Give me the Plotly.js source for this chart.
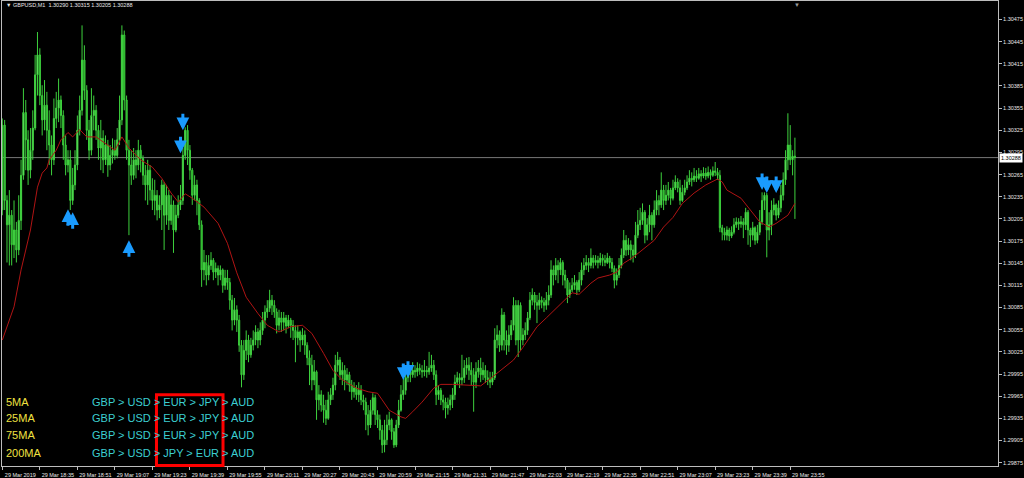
<!DOCTYPE html>
<html>
<head>
<meta charset="utf-8">
<script src="https://cdn.plot.ly/plotly-3.0.1.min.js"></script>
<style>html,body{margin:0;padding:0;background:#000;}#chart{width:1024px;height:478px;}</style>
</head>
<body>
<div id="chart"></div>
<script>
// GBPUSD M1 bars, 29 Mar 2019 18:19 .. 23:57
const open = [1.30217,1.30332,1.30230,1.30197,1.30210,1.30170,1.30190,1.30163,1.30203,1.30264,
1.30349,1.30312,1.30271,1.30298,1.30328,1.30400,1.30427,1.30372,1.30339,1.30359,
1.30325,1.30305,1.30285,1.30341,1.30355,1.30366,1.30345,1.30305,1.30278,1.30285,
1.30230,1.30251,1.30278,1.30325,1.30352,1.30420,1.30379,1.30325,1.30298,1.30345,
1.30352,1.30325,1.30301,1.30314,1.30285,1.30305,1.30278,1.30291,1.30298,1.30291,
1.30312,1.30339,1.30454,1.30366,1.30298,1.30278,1.30264,1.30285,1.30278,1.30298,
1.30287,1.30264,1.30251,1.30271,1.30244,1.30230,1.30237,1.30217,1.30224,1.30251,
1.30210,1.30237,1.30203,1.30224,1.30190,1.30210,1.30224,1.30230,1.30291,1.30325,
1.30298,1.30271,1.30237,1.30251,1.30230,1.30197,1.30136,1.30146,1.30129,1.30142,
1.30149,1.30133,1.30138,1.30129,1.30136,1.30115,1.30125,1.30119,1.30095,1.30068,
1.30082,1.30068,1.30034,1.29994,1.30027,1.30041,1.30021,1.30034,1.30041,1.30052,
1.30041,1.30054,1.30068,1.30079,1.30084,1.30095,1.30088,1.30079,1.30061,1.30071,
1.30065,1.30071,1.30060,1.30068,1.30061,1.30054,1.30044,1.30052,1.30041,1.30048,
1.30034,1.30017,1.30007,1.29987,1.29998,1.29960,1.29967,1.29953,1.29946,1.29935,
1.29960,1.29967,1.29980,1.30007,1.30014,1.29994,1.30000,1.29987,1.29994,1.29980,
1.29971,1.29976,1.29967,1.29973,1.29960,1.29957,1.29940,1.29926,1.29946,1.29963,
1.29940,1.29933,1.29919,1.29899,1.29906,1.29926,1.29933,1.29917,1.29899,1.29926,
1.29946,1.29967,1.29973,1.29990,1.29998,1.29994,1.30000,1.29998,1.30003,1.30000,
1.29998,1.30000,1.29998,1.30003,1.30007,1.29994,1.29967,1.29973,1.29960,1.29957,
1.29949,1.29953,1.29960,1.29967,1.29984,1.29990,1.29987,1.29990,1.30003,1.30007,
1.30000,1.29994,1.29984,1.29998,1.30003,1.29994,1.30000,1.29990,1.29987,1.29984,
1.29990,1.30041,1.30048,1.30034,1.30075,1.30041,1.30034,1.30048,1.30061,1.30088,
1.30041,1.30088,1.30041,1.30048,1.30054,1.30071,1.30095,1.30102,1.30092,1.30088,
1.30095,1.30092,1.30088,1.30095,1.30102,1.30136,1.30129,1.30142,1.30136,1.30146,
1.30129,1.30122,1.30102,1.30109,1.30115,1.30119,1.30109,1.30122,1.30136,1.30142,
1.30146,1.30142,1.30152,1.30146,1.30149,1.30146,1.30152,1.30149,1.30146,1.30152,
1.30146,1.30138,1.30122,1.30129,1.30142,1.30156,1.30176,1.30163,1.30170,1.30163,
1.30156,1.30183,1.30197,1.30203,1.30214,1.30183,1.30197,1.30210,1.30197,1.30217,
1.30230,1.30224,1.30244,1.30230,1.30237,1.30244,1.30233,1.30247,1.30255,1.30247,
1.30230,1.30241,1.30247,1.30255,1.30260,1.30258,1.30263,1.30260,1.30266,1.30263,
1.30267,1.30263,1.30268,1.30264,1.30270,1.30268,1.30264,1.30193,1.30187,1.30183,
1.30190,1.30182,1.30187,1.30197,1.30201,1.30198,1.30201,1.30197,1.30214,1.30190,
1.30183,1.30193,1.30176,1.30187,1.30201,1.30230,1.30237,1.30190,1.30197,1.30217,
1.30224,1.30210,1.30220,1.30237,1.30258,1.30285,1.30305,1.30285,1.30290];

const high = [1.30341,1.30339,1.30237,1.30244,1.30217,1.30230,1.30201,1.30237,1.30285,1.30382,
1.30366,1.30325,1.30328,1.30352,1.30427,1.30458,1.30436,1.30386,1.30393,1.30377,
1.30352,1.30318,1.30368,1.30377,1.30395,1.30372,1.30352,1.30318,1.30298,1.30298,
1.30274,1.30298,1.30345,1.30372,1.30467,1.30440,1.30386,1.30339,1.30382,1.30372,
1.30359,1.30332,1.30339,1.30325,1.30318,1.30312,1.30305,1.30314,1.30312,1.30328,
1.30372,1.30467,1.30460,1.30372,1.30312,1.30298,1.30301,1.30298,1.30312,1.30305,
1.30291,1.30278,1.30285,1.30278,1.30260,1.30258,1.30244,1.30237,1.30258,1.30255,
1.30251,1.30244,1.30237,1.30230,1.30224,1.30237,1.30251,1.30301,1.30329,1.30332,
1.30305,1.30274,1.30264,1.30258,1.30233,1.30203,1.30163,1.30156,1.30156,1.30160,
1.30152,1.30146,1.30142,1.30142,1.30138,1.30136,1.30136,1.30125,1.30102,1.30098,
1.30088,1.30075,1.30041,1.30041,1.30054,1.30048,1.30044,1.30054,1.30061,1.30057,
1.30065,1.30079,1.30088,1.30095,1.30109,1.30102,1.30095,1.30084,1.30082,1.30079,
1.30079,1.30075,1.30075,1.30071,1.30068,1.30061,1.30061,1.30054,1.30057,1.30054,
1.30038,1.30027,1.30021,1.30014,1.30000,1.29980,1.29973,1.29967,1.29960,1.29971,
1.29976,1.29990,1.30021,1.30025,1.30018,1.30011,1.30007,1.30003,1.29998,1.29987,
1.29984,1.29980,1.29984,1.29980,1.29967,1.29963,1.29953,1.29960,1.29969,1.29967,
1.29946,1.29940,1.29926,1.29933,1.29940,1.29944,1.29935,1.29922,1.29933,1.29960,
1.29980,1.29994,1.30000,1.30007,1.30003,1.30011,1.30007,1.30011,1.30009,1.30007,
1.30014,1.30006,1.30025,1.30021,1.30014,1.30000,1.29980,1.29976,1.29967,1.29963,
1.29963,1.29967,1.29976,1.29994,1.29998,1.29996,1.30021,1.30014,1.30017,1.30018,
1.30011,1.30003,1.30011,1.30014,1.30017,1.30011,1.30007,1.30000,1.29998,1.29998,
1.30057,1.30061,1.30054,1.30084,1.30079,1.30054,1.30061,1.30068,1.30099,1.30095,
1.30095,1.30092,1.30057,1.30065,1.30079,1.30106,1.30111,1.30106,1.30102,1.30105,
1.30100,1.30098,1.30106,1.30115,1.30149,1.30142,1.30152,1.30149,1.30152,1.30149,
1.30136,1.30125,1.30119,1.30125,1.30129,1.30122,1.30133,1.30146,1.30152,1.30156,
1.30152,1.30165,1.30156,1.30156,1.30155,1.30159,1.30157,1.30156,1.30159,1.30155,
1.30152,1.30142,1.30138,1.30152,1.30165,1.30190,1.30183,1.30179,1.30176,1.30170,
1.30201,1.30217,1.30220,1.30226,1.30217,1.30206,1.30224,1.30214,1.30230,1.30244,
1.30237,1.30268,1.30251,1.30251,1.30255,1.30247,1.30258,1.30264,1.30260,1.30258,
1.30251,1.30258,1.30264,1.30271,1.30268,1.30274,1.30271,1.30274,1.30271,1.30275,
1.30274,1.30276,1.30272,1.30276,1.30282,1.30274,1.30271,1.30197,1.30193,1.30195,
1.30193,1.30195,1.30206,1.30207,1.30206,1.30209,1.30206,1.30220,1.30217,1.30193,
1.30201,1.30195,1.30197,1.30217,1.30241,1.30241,1.30240,1.30214,1.30230,1.30233,
1.30226,1.30230,1.30251,1.30268,1.30298,1.30348,1.30332,1.30298,1.30315];

const low = [1.30210,1.30217,1.30146,1.30142,1.30142,1.30152,1.30146,1.30156,1.30190,1.30258,
1.30271,1.30251,1.30260,1.30285,1.30325,1.30372,1.30359,1.30318,1.30325,1.30298,
1.30278,1.30264,1.30278,1.30328,1.30336,1.30328,1.30285,1.30264,1.30268,1.30217,
1.30224,1.30244,1.30271,1.30318,1.30345,1.30366,1.30312,1.30285,1.30291,1.30325,
1.30312,1.30285,1.30271,1.30267,1.30278,1.30262,1.30271,1.30280,1.30285,1.30287,
1.30305,1.30332,1.30352,1.30285,1.30183,1.30251,1.30258,1.30260,1.30271,1.30268,
1.30251,1.30230,1.30224,1.30230,1.30217,1.30210,1.30203,1.30206,1.30190,1.30163,
1.30197,1.30190,1.30197,1.30159,1.30187,1.30206,1.30217,1.30224,1.30285,1.30278,
1.30258,1.30224,1.30230,1.30210,1.30190,1.30113,1.30122,1.30115,1.30122,1.30136,
1.30122,1.30125,1.30115,1.30122,1.30105,1.30109,1.30109,1.30082,1.30054,1.30061,
1.30052,1.30025,1.29977,1.29987,1.30014,1.30011,1.30017,1.30027,1.30034,1.30030,
1.30034,1.30048,1.30057,1.30071,1.30079,1.30075,1.30071,1.30050,1.30054,1.30052,
1.30054,1.30050,1.30057,1.30044,1.30041,1.30011,1.30034,1.30025,1.30034,1.30021,
1.30007,1.29980,1.29973,1.29980,1.29933,1.29946,1.29944,1.29929,1.29926,1.29933,
1.29953,1.29960,1.29973,1.29998,1.29987,1.29980,1.29973,1.29980,1.29971,1.29960,
1.29963,1.29960,1.29957,1.29953,1.29946,1.29919,1.29912,1.29922,1.29940,1.29926,
1.29922,1.29906,1.29888,1.29889,1.29899,1.29919,1.29906,1.29895,1.29896,1.29922,
1.29944,1.29960,1.29967,1.29984,1.29984,1.29990,1.29990,1.29992,1.29994,1.29990,
1.29992,1.29990,1.29994,1.29998,1.29987,1.29953,1.29960,1.29953,1.29946,1.29935,
1.29940,1.29946,1.29949,1.29960,1.29980,1.29976,1.29980,1.29983,1.29994,1.29987,
1.29980,1.29944,1.29976,1.29990,1.29984,1.29987,1.29983,1.29980,1.29976,1.29980,
1.29987,1.30030,1.30025,1.30027,1.30027,1.30021,1.30025,1.30041,1.30054,1.30034,
1.30018,1.30027,1.30034,1.30041,1.30048,1.30068,1.30088,1.30082,1.30064,1.30082,
1.30084,1.30079,1.30082,1.30088,1.30098,1.30115,1.30122,1.30118,1.30129,1.30115,
1.30111,1.30091,1.30098,1.30106,1.30109,1.30102,1.30106,1.30115,1.30129,1.30136,
1.30133,1.30138,1.30138,1.30142,1.30138,1.30142,1.30141,1.30141,1.30144,1.30138,
1.30133,1.30111,1.30115,1.30125,1.30138,1.30152,1.30155,1.30156,1.30149,1.30146,
1.30152,1.30179,1.30190,1.30197,1.30172,1.30176,1.30187,1.30176,1.30193,1.30210,
1.30210,1.30220,1.30217,1.30224,1.30230,1.30224,1.30230,1.30244,1.30241,1.30224,
1.30228,1.30237,1.30244,1.30251,1.30249,1.30255,1.30255,1.30258,1.30255,1.30260,
1.30258,1.30260,1.30258,1.30262,1.30263,1.30258,1.30187,1.30176,1.30176,1.30176,
1.30175,1.30179,1.30184,1.30193,1.30190,1.30193,1.30179,1.30190,1.30170,1.30167,
1.30176,1.30170,1.30172,1.30183,1.30197,1.30217,1.30153,1.30176,1.30183,1.30210,
1.30203,1.30206,1.30214,1.30230,1.30251,1.30271,1.30278,1.30264,1.30205];

const close = [1.30332,1.30230,1.30197,1.30210,1.30170,1.30190,1.30163,1.30203,1.30264,1.30349,
1.30312,1.30271,1.30298,1.30328,1.30400,1.30427,1.30372,1.30339,1.30359,1.30325,
1.30305,1.30285,1.30341,1.30355,1.30366,1.30345,1.30305,1.30278,1.30285,1.30230,
1.30251,1.30278,1.30325,1.30352,1.30420,1.30379,1.30325,1.30298,1.30345,1.30352,
1.30325,1.30301,1.30314,1.30285,1.30305,1.30278,1.30291,1.30298,1.30291,1.30312,
1.30339,1.30454,1.30366,1.30298,1.30278,1.30264,1.30285,1.30278,1.30298,1.30287,
1.30264,1.30251,1.30271,1.30244,1.30230,1.30237,1.30217,1.30224,1.30251,1.30210,
1.30237,1.30203,1.30224,1.30190,1.30210,1.30224,1.30230,1.30291,1.30325,1.30298,
1.30271,1.30237,1.30251,1.30230,1.30197,1.30136,1.30146,1.30129,1.30142,1.30149,
1.30133,1.30138,1.30129,1.30136,1.30115,1.30125,1.30119,1.30095,1.30068,1.30082,
1.30068,1.30034,1.29994,1.30027,1.30041,1.30021,1.30034,1.30041,1.30052,1.30041,
1.30054,1.30068,1.30079,1.30084,1.30095,1.30088,1.30079,1.30061,1.30071,1.30065,
1.30071,1.30060,1.30068,1.30061,1.30054,1.30044,1.30052,1.30041,1.30048,1.30034,
1.30017,1.30007,1.29987,1.29998,1.29960,1.29967,1.29953,1.29946,1.29935,1.29960,
1.29967,1.29980,1.30007,1.30014,1.29994,1.30000,1.29987,1.29994,1.29980,1.29971,
1.29976,1.29967,1.29973,1.29960,1.29957,1.29940,1.29926,1.29946,1.29963,1.29940,
1.29933,1.29919,1.29899,1.29906,1.29926,1.29933,1.29917,1.29899,1.29926,1.29946,
1.29967,1.29973,1.29990,1.29998,1.29994,1.30000,1.29998,1.30003,1.30000,1.29998,
1.30000,1.29998,1.30003,1.30007,1.29994,1.29967,1.29973,1.29960,1.29957,1.29949,
1.29953,1.29960,1.29967,1.29984,1.29990,1.29987,1.29990,1.30003,1.30007,1.30000,
1.29994,1.29984,1.29998,1.30003,1.29994,1.30000,1.29990,1.29987,1.29984,1.29990,
1.30041,1.30048,1.30034,1.30075,1.30041,1.30034,1.30048,1.30061,1.30088,1.30041,
1.30088,1.30041,1.30048,1.30054,1.30071,1.30095,1.30102,1.30092,1.30088,1.30095,
1.30092,1.30088,1.30095,1.30102,1.30136,1.30129,1.30142,1.30136,1.30146,1.30129,
1.30122,1.30102,1.30109,1.30115,1.30119,1.30109,1.30122,1.30136,1.30142,1.30146,
1.30142,1.30152,1.30146,1.30149,1.30146,1.30152,1.30149,1.30146,1.30152,1.30146,
1.30138,1.30122,1.30129,1.30142,1.30156,1.30176,1.30163,1.30170,1.30163,1.30156,
1.30183,1.30197,1.30203,1.30214,1.30183,1.30197,1.30210,1.30197,1.30217,1.30230,
1.30224,1.30244,1.30230,1.30237,1.30244,1.30233,1.30247,1.30255,1.30247,1.30230,
1.30241,1.30247,1.30255,1.30260,1.30258,1.30263,1.30260,1.30266,1.30263,1.30267,
1.30263,1.30268,1.30264,1.30270,1.30268,1.30264,1.30193,1.30187,1.30183,1.30190,
1.30182,1.30187,1.30197,1.30201,1.30198,1.30201,1.30197,1.30214,1.30190,1.30183,
1.30193,1.30176,1.30187,1.30201,1.30230,1.30237,1.30190,1.30197,1.30217,1.30224,
1.30210,1.30220,1.30237,1.30258,1.30285,1.30305,1.30285,1.30290,1.30288];

// moving average line, read at sample bars
const maBar = [0,5,8,12,15,17,19,20,23,25,28,30,33,36,40,45,48,51,54,59,64,68,72,75,78,81,86,92,96,100,104,109,113,118,123,128,132,137,141,145,151,156,160,162,165,170,172,175,179,184,187,192,198,204,209,214,218,222,228,232,237,241,243,246,251,254,259,262,265,269,273,276,278,282,286,290,295,300,305,307,309,315,319,323,327,330,335,338];
const maPrice = [1.30041,1.30086,1.30136,1.30190,1.30248,1.30267,1.30274,1.30285,1.30298,1.30312,1.30322,1.30316,1.30326,1.30316,1.30316,1.30305,1.30298,1.30316,1.30301,1.30285,1.30275,1.30260,1.30240,1.30228,1.30239,1.30233,1.30221,1.30199,1.30172,1.30132,1.30099,1.30077,1.30061,1.30052,1.30059,1.30061,1.30050,1.30023,1.30000,1.29987,1.29976,1.29971,1.29969,1.29960,1.29946,1.29937,1.29935,1.29944,1.29957,1.29976,1.29981,1.29981,1.29980,1.29979,1.29991,1.30004,1.30014,1.30031,1.30059,1.30071,1.30086,1.30099,1.30105,1.30103,1.30118,1.30125,1.30129,1.30133,1.30145,1.30153,1.30163,1.30170,1.30176,1.30194,1.30207,1.30226,1.30240,1.30251,1.30259,1.30255,1.30244,1.30233,1.30217,1.30201,1.30194,1.30199,1.30210,1.30226];

// signal arrows
const upArrowBar = [28, 30, 54];
const upArrowPrice = [1.30218, 1.30214, 1.30176];
const downArrowBar = [76, 77, 171, 173, 324, 326, 330];
const downArrowPrice = [1.30294, 1.30325, 1.29987, 1.29990, 1.30244, 1.30240, 1.30240];

// time axis labels
const tickBars = [0,16,32,48,64,80,96,112,128,144,160,176,192,208,224,240,256,272,288,304,320,336];
const tickLabels = ['29 Mar 2019','29 Mar 18:35','29 Mar 18:51','29 Mar 19:07','29 Mar 19:23','29 Mar 19:39','29 Mar 19:55','29 Mar 20:11','29 Mar 20:27','29 Mar 20:43','29 Mar 20:59','29 Mar 21:15','29 Mar 21:31','29 Mar 21:47','29 Mar 22:03','29 Mar 22:19','29 Mar 22:35','29 Mar 22:51','29 Mar 23:07','29 Mar 23:23','29 Mar 23:39','29 Mar 23:55'];

// currency strength panel
const maNames = ['5MA', '25MA', '75MA', '200MA'];
const maOrders = ['GBP > USD > EUR > JPY > AUD', 'GBP > USD > EUR > JPY > AUD', 'GBP > USD > EUR > JPY > AUD', 'GBP > USD > JPY > EUR > AUD'];

const symbolName = 'GBPUSD,M1';

const bars = close.map((_, i) => i);
const last = close.length - 1;
const smallFont = 'Liberation Sans, Arial, sans-serif';

const traces = [
  {
    type: 'candlestick', x: bars, open: open, high: high, low: low, close: close,
    increasing: {line: {color: '#3dd03d', width: 1}, fillcolor: '#8af58a'},
    decreasing: {line: {color: '#3dd03d', width: 1}, fillcolor: '#1ea21e'},
    whiskerwidth: 0, hoverinfo: 'skip', showlegend: false
  },
  {
    type: 'scatter', mode: 'lines', x: maBar, y: maPrice,
    line: {color: '#b01414', width: 1}, hoverinfo: 'skip', showlegend: false
  }
];

const annotations = [];
const arrowColor = '#1a9bff';
upArrowBar.forEach((b, k) => annotations.push({
  x: b, y: upArrowPrice[k], xref: 'x', yref: 'y', text: '', showarrow: true,
  arrowhead: 2, arrowsize: 0.85, arrowwidth: 3, arrowcolor: arrowColor, ax: 0, ay: 18
}));
downArrowBar.forEach((b, k) => annotations.push({
  x: b, y: downArrowPrice[k], xref: 'x', yref: 'y', text: '', showarrow: true,
  arrowhead: 2, arrowsize: 0.85, arrowwidth: 3, arrowcolor: arrowColor, ax: 0, ay: -18
}));

const rowY = [0.1387, 0.1022, 0.0656, 0.0290];
maNames.forEach((n, k) => {
  annotations.push({x: 0.002, y: rowY[k], xref: 'paper', yref: 'paper', xanchor: 'left', yanchor: 'middle',
    text: n, showarrow: false, font: {family: smallFont, size: 11, color: '#f0e040'}});
  annotations.push({x: 0.0884, y: rowY[k], xref: 'paper', yref: 'paper', xanchor: 'left', yanchor: 'middle',
    text: maOrders[k], showarrow: false, font: {family: smallFont, size: 11, color: '#3ccfd2'}});
});

// header
annotations.push({x: 0.002, y: 0.9914, xref: 'paper', yref: 'paper', xanchor: 'left', yanchor: 'middle',
  text: '\u25BC ' + symbolName + '  ' + open[last].toFixed(5) + ' ' + high[last].toFixed(5) + ' ' + low[last].toFixed(5) + ' ' + close[last].toFixed(5),
  showarrow: false, font: {family: smallFont, size: 5.5, color: '#e8e8e8'}});
// chart shift marker
annotations.push({x: 0.798, y: 1, xref: 'paper', yref: 'paper', xanchor: 'center', yanchor: 'top',
  text: '\u25BC', showarrow: false, font: {family: smallFont, size: 6, color: '#9a9a9a'}, borderpad: 0});
// current price label
annotations.push({x: 1, y: close[last], xref: 'paper', yref: 'y', xanchor: 'left', yanchor: 'middle',
  xshift: 1, text: close[last].toFixed(5), showarrow: false, bgcolor: '#ffffff', borderpad: 1,
  font: {family: smallFont, size: 5.5, color: '#000000'}});

const layout = {
  width: 1024, height: 478,
  margin: {l: 2, r: 26, t: 1, b: 12, pad: 0},
  paper_bgcolor: '#000000', plot_bgcolor: '#000000',
  showlegend: false,
  font: {family: smallFont, size: 5.5, color: '#e8e8e8'},
  xaxis: {
    range: [-0.13, 424.6], rangeslider: {visible: false}, showgrid: false, zeroline: false,
    tickmode: 'array', tickvals: tickBars, ticktext: tickLabels,
    ticks: 'outside', ticklen: 3, tickcolor: '#bdbdbd', ticklabelshift: 18,
    tickfont: {family: smallFont, size: 5.5, color: '#e8e8e8'},
    showline: true, linecolor: '#bdbdbd', linewidth: 1, mirror: true, fixedrange: true
  },
  yaxis: {
    range: [1.298705, 1.30500], side: 'right', showgrid: false, zeroline: false,
    tick0: 1.29875, dtick: 0.0003, tickformat: '.5f',
    ticks: 'outside', ticklen: 3, tickcolor: '#bdbdbd',
    tickfont: {family: smallFont, size: 5.5, color: '#e8e8e8'},
    showline: true, linecolor: '#bdbdbd', linewidth: 1, mirror: true, fixedrange: true
  },
  shapes: [
    {type: 'line', xref: 'paper', yref: 'y', x0: 0, x1: 1, y0: close[last], y1: close[last],
     line: {color: '#787878', width: 1}, layer: 'below'},
    {type: 'rect', xref: 'paper', yref: 'paper', x0: 0.1551, x1: 0.2219, y0: 0.0009, y1: 0.1534,
     line: {color: '#ff0000', width: 3}, fillcolor: 'rgba(0,0,0,0)', layer: 'above'}
  ],
  annotations: annotations
};

Plotly.newPlot('chart', traces, layout, {displayModeBar: false, staticPlot: true});
</script>
</body>
</html>
